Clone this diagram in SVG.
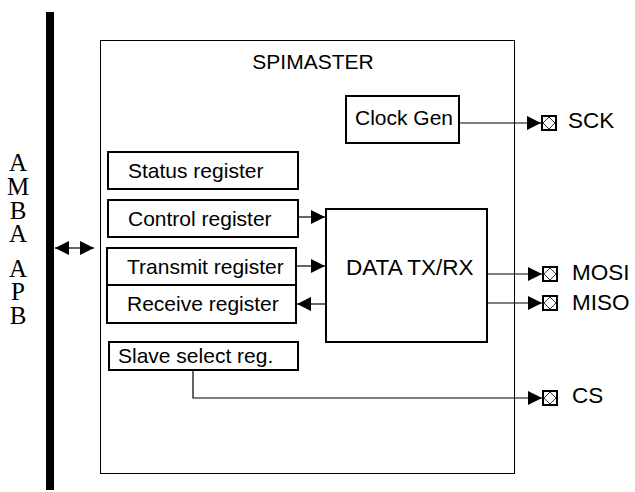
<svg xmlns="http://www.w3.org/2000/svg" width="635" height="492" viewBox="0 0 635 492">
<style>
.box{fill:#fff;stroke:#000;stroke-width:2}
.thin{fill:none;stroke:#000;stroke-width:1}
.lbl{font-family:"Liberation Sans",Arial,sans-serif;font-size:21px;fill:#000}
.big{font-family:"Liberation Sans",Arial,sans-serif;font-size:22.5px;fill:#000}
.serif{font-family:"Liberation Serif","Times New Roman",serif;font-size:25px;fill:#000;text-anchor:middle}
.wire{fill:none;stroke:#000;stroke-width:1.2}
.pad{fill:#fff;stroke:#000;stroke-width:2}
.dia{fill:none;stroke:#000;stroke-width:0.8}
</style>
<defs>
<marker id="ah" viewBox="0 0 10 10" refX="10" refY="5" markerWidth="14" markerHeight="14" markerUnits="userSpaceOnUse" orient="auto">
<path d="M0,0 L10,5 L0,10 Z" fill="#000"/>
</marker>
<g id="padsym">
<rect class="pad" x="0" y="-7" width="14" height="14"/>
<path class="dia" d="M7,-6 L13,0 L7,6 L1,0 Z"/>
</g>
</defs>
<rect x="46" y="12" width="8" height="478" fill="#000"/>
<g id="amba">
<text class="serif" x="18" y="171">A</text>
<text class="serif" x="18" y="195">M</text>
<text class="serif" x="18" y="219">B</text>
<text class="serif" x="18" y="242">A</text>
<text class="serif" x="18" y="277">A</text>
<text class="serif" x="18" y="300">P</text>
<text class="serif" x="18" y="324">B</text>
</g>
<g id="spimaster">
<rect class="thin" x="100.5" y="40.5" width="414" height="433"/>
<text class="lbl" x="313" y="69" text-anchor="middle">SPIMASTER</text>
</g>
<g id="clockgen">
<rect class="box" x="346" y="96" width="113" height="47"/>
<text class="lbl" x="355" y="125">Clock Gen</text>
</g>
<g id="status">
<rect class="box" x="108" y="152" width="190" height="37"/>
<text class="lbl" x="128" y="178">Status register</text>
</g>
<g id="control">
<rect class="box" x="108" y="200" width="190" height="37"/>
<text class="lbl" x="128" y="226">Control register</text>
</g>
<g id="transmit">
<rect class="box" x="107" y="248" width="189" height="37"/>
<text class="lbl" x="127" y="274">Transmit register</text>
</g>
<g id="receive">
<rect class="box" x="107" y="285" width="189" height="38"/>
<text class="lbl" x="127" y="311">Receive register</text>
</g>
<g id="slavesel">
<rect class="box" x="109" y="342" width="189" height="28"/>
<text class="lbl" x="118" y="363">Slave select reg.</text>
</g>
<g id="datatxrx">
<rect class="box" x="326" y="209" width="161" height="133"/>
<text class="big" x="346" y="275">DATA TX/RX</text>
</g>
<g id="pads">
<use href="#padsym" x="542" y="123"/>
<text class="big" x="568" y="128">SCK</text>
<use href="#padsym" x="543" y="274"/>
<text class="big" x="572" y="280">MOSI</text>
<use href="#padsym" x="543" y="303"/>
<text class="big" x="572" y="310">MISO</text>
<use href="#padsym" x="543" y="398"/>
<text class="big" x="572" y="403">CS</text>
</g>
<g id="connectors">
<path class="wire" d="M459,123 H541" marker-end="url(#ah)"/>
<path class="wire" d="M298,217 H325" marker-end="url(#ah)"/>
<path class="wire" d="M296,266 H325" marker-end="url(#ah)"/>
<path class="wire" d="M326,304 H297" marker-end="url(#ah)"/>
<path class="wire" d="M487,274 H542" marker-end="url(#ah)"/>
<path class="wire" d="M487,303 H542" marker-end="url(#ah)"/>
<path class="wire" d="M193,370 V398 H542" stroke-width="2" marker-end="url(#ah)"/>
<path class="wire" d="M74,248 H94" marker-end="url(#ah)"/>
<path class="wire" d="M74,248 H55" marker-end="url(#ah)"/>
</g>
</svg>
